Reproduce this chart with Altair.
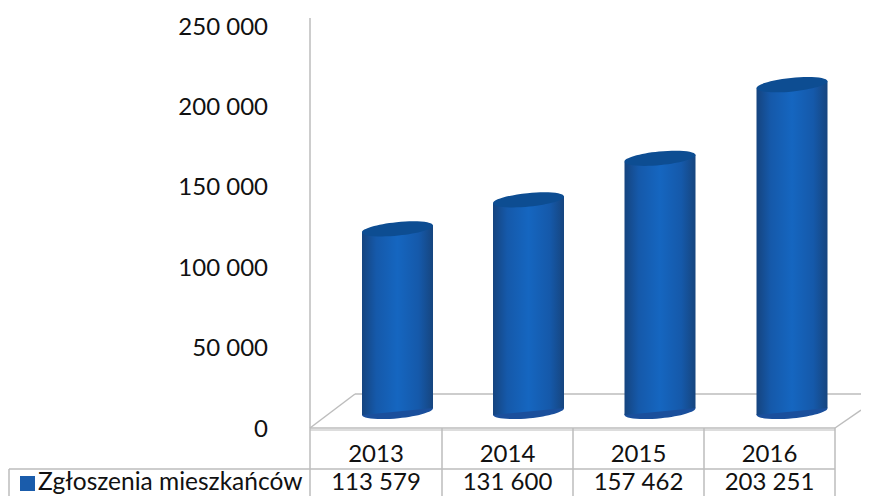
import altair as alt
import pandas as pd

years = ["2013", "2014", "2015", "2016"]
values = [113579, 131600, 157462, 203251]
value_labels = ["113 579", "131 600", "157 462", "203 251"]
axis_ticks = [0, 50000, 100000, 150000, 200000, 250000]
axis_labels = ["0", "50 000", "100 000", "150 000", "200 000", "250 000"]
series_name = "Zgłoszenia mieszkańców"

W, H = 853, 488
FONT = "Lato"
FS = 24
GREY = "#bdbdbd"

# page pixel -> data helpers (layout only)
def U(p):
    return (p - 310) / 131.25
def V(p):
    return (427 - p) / 1.608 * 1000

xs = alt.Scale(domain=[U(8), U(8 + W)], range=[0, W], nice=False, zero=False)
ys = alt.Scale(domain=[V(8 + H), V(8)], range=[H, 0], nice=False, zero=False)
X = lambda f="u": alt.X(f"{f}:Q", scale=xs, axis=None)
Y = lambda f="v": alt.Y(f"{f}:Q", scale=ys, axis=None)

def seg(p1, q1, p2, q2):
    return {"u": U(p1), "v": V(q1), "u2": U(p2), "v2": V(q2)}

floor = [
    seg(310, 428, 355, 394), seg(355, 394, 861, 394),
    seg(310, 428, 835, 428), seg(835, 428, 861, 410),
    seg(310, 18, 310, 428),
]
floor2 = [seg(310, 430, 835, 430)]
table = [seg(p, 428, p, 496) for p in (310, 442, 573, 704, 835)]
table += [seg(9, 469, 835, 469), seg(9, 469, 9, 496)]

def rules(rows, color=GREY, width=1.5, op=1.0):
    return alt.Chart(pd.DataFrame(rows)).mark_rule(color=color, strokeWidth=width, opacity=op).encode(
        x=X(), y=Y(), x2="u2:Q", y2="v2:Q")

centers = [U(p) for p in (397.5, 528.5, 660, 792)]
half = 35.5 / 131.25
tilt = 3.5 / 1.608 * 1000
base = V(411.5)

body = []
caps = []
for yr, c, val in zip(years, centers, values):
    body.append({"year": yr, "u": c - half, "v": base - tilt + val, "v0": base - tilt})
    body.append({"year": yr, "u": c + half, "v": base + tilt + val, "v0": base + tilt})
    caps.append({"year": yr, "u": c, "top": base + val, "bot": base})
body_df = pd.DataFrame(body)
caps_df = pd.DataFrame(caps)

grad = alt.Gradient(
    gradient="linear", x1=0, x2=1, y1=0, y2=0,
    stops=[
        alt.GradientStop(color="#15447f", offset=0),
        alt.GradientStop(color="#1559aa", offset=0.2),
        alt.GradientStop(color="#1566c0", offset=0.5),
        alt.GradientStop(color="#1559aa", offset=0.8),
        alt.GradientStop(color="#16457f", offset=1),
    ],
)
ELLIPSE = "M-1,0.1 A1,0.19 -5.6 1 1 1,-0.1 A1,0.19 -5.6 1 1 -1,0.1 Z"

bottoms = alt.Chart(caps_df).mark_point(shape=ELLIPSE, filled=True, size=5041, fill="#1a4f9c", opacity=1, strokeWidth=0).encode(
    x=X(), y=Y("bot"))
bars = alt.Chart(body_df).mark_area(color=grad, opacity=1).encode(
    x=X(), y=Y(), y2="v0:Q", detail="year:N")
tops = alt.Chart(caps_df).mark_point(shape=ELLIPSE, filled=True, size=5041, fill="#0d4d92", opacity=1, strokeWidth=0).encode(
    x=X(), y=Y("top"))

def text(rows, align="center", fs=FS, dy=0):
    return alt.Chart(pd.DataFrame(rows)).mark_text(
        font=FONT, fontSize=fs, align=align, baseline="middle", color="#111111", dy=dy
    ).encode(x=X(), y=Y(), text="t:N")

tick_text = text([{"u": U(268), "v": t, "t": l} for t, l in zip(axis_ticks, axis_labels)], "right", dy=2.5)
cell_c = [U(p) for p in (376, 507.5, 638.5, 769.5)]
year_text = text([{"u": c, "v": V(455), "t": y} for c, y in zip(cell_c, years)])
val_text = text([{"u": c, "v": V(483), "t": l} for c, l in zip(cell_c, value_labels)])
series_text = text([{"u": U(38), "v": V(483), "t": series_name}], "left", 24.5)
swatch = alt.Chart(pd.DataFrame([{"u": U(20), "u2": U(35), "v": V(476), "v2": V(491)}])).mark_rect(
    color="#1a5cab").encode(x=X(), x2="u2:Q", y=Y(), y2="v2:Q")

chart = alt.layer(
    rules(floor), rules(floor2, "#dddddd", 2), rules(table),
    bottoms, bars, tops,
    tick_text, year_text, val_text, series_text, swatch,
).properties(
    width=W, height=H, padding=0, autosize=alt.AutoSizeParams(type="none"), background="white"
).configure_view(stroke=None)

chart.save("out.html", embed_options={"renderer": "svg", "actions": False})
